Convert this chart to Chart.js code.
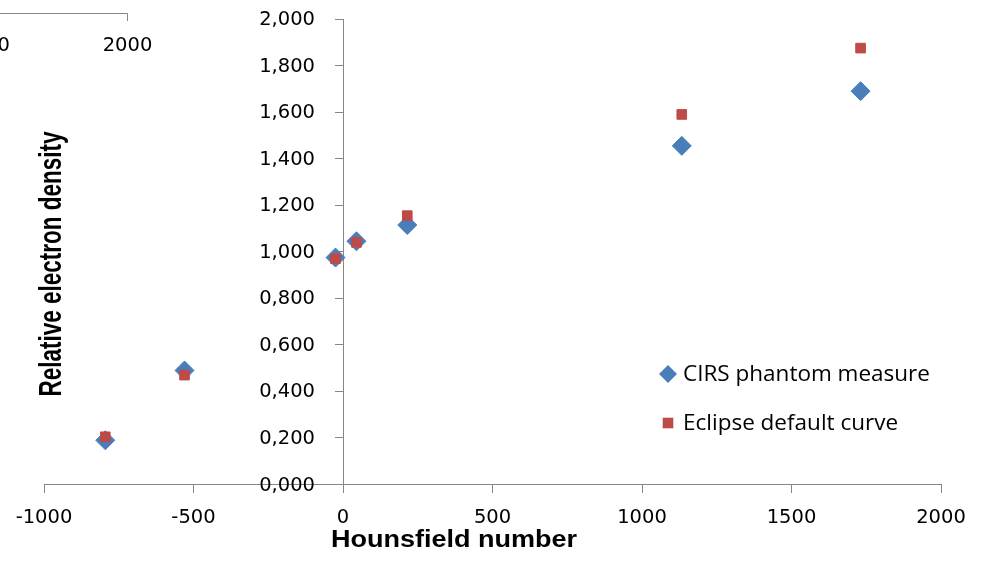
<!DOCTYPE html>
<html>
<head>
<meta charset="utf-8">
<script src="https://cdn.jsdelivr.net/npm/chart.js@4/dist/chart.umd.min.js"></script>
<style>
  body { margin: 0; background: #fff; }
  #wrap { width: 986px; height: 563px; position: relative; }
</style>
</head>
<body>
<div id="wrap"><canvas id="grafica"></canvas></div>
<script>
// Datos
const hounsfield = [-795, -530, -25, 45, 215, 1133, 1731];
const cirsDensity = [0.19, 0.49, 0.975, 1.045, 1.115, 1.455, 1.69];
const eclipseDensity = [0.205, 0.47, 0.97, 1.04, 1.155, 1.59, 1.875];

const seriesNames = ["CIRS phantom measure", "Eclipse default curve"];
const xTickLabels = ["-1000", "-500", "0", "500", "1000", "1500", "2000"];
const yTickLabels = ["0,000", "0,200", "0,400", "0,600", "0,800", "1,000",
  "1,200", "1,400", "1,600", "1,800", "2,000"];
const xTitle = "Hounsfield number";
const yTitle = "Relative electron density";

const axisColor = "#868686";
const blue = "#4A7EBB";
const red = "#BE4B48";
const tickFont = { family: "DejaVu Sans", size: 19.5 };

function toPoints(xs, ys) {
  return xs.map((x, i) => ({ x: x, y: ys[i] }));
}

// Dibuja un marcador como el de la leyenda de Excel
function drawMarker(ctx, style, color, x, y, r) {
  ctx.save();
  ctx.fillStyle = color;
  ctx.beginPath();
  if (style === "rectRot") {
    ctx.moveTo(x, y - r);
    ctx.lineTo(x + r, y);
    ctx.lineTo(x, y + r);
    ctx.lineTo(x - r, y);
    ctx.closePath();
  } else {
    ctx.rect(x - r, y - r, 2 * r, 2 * r);
  }
  ctx.fill();
  ctx.restore();
}

// Títulos, etiquetas del eje Y, leyenda y el trozo de otra gráfica arriba a la izquierda
const extrasPlugin = {
  id: "extras",
  afterDraw: (chart) => {
    const { ctx } = chart;
    const xScale = chart.scales.x;
    const yScale = chart.scales.y;
    ctx.save();
    ctx.fillStyle = "#000";

    // etiquetas del eje Y (el eje está en x = 0, Chart.js no respeta el padding ahí)
    const labelRight = xScale.getPixelForValue(0) - 28;
    ctx.font = tickFont.size + "px '" + tickFont.family + "'";
    ctx.textAlign = "right";
    ctx.textBaseline = "middle";
    yScale.ticks.forEach((t, i) => {
      ctx.fillText(yTickLabels[i], labelRight, yScale.getPixelForValue(t.value) + 1);
    });

    // título eje X
    ctx.save();
    ctx.font = "bold 23.5px 'Liberation Sans'";
    ctx.textAlign = "center";
    ctx.textBaseline = "alphabetic";
    ctx.translate(454, 547);
    ctx.scale(1.15, 1);
    ctx.fillText(xTitle, 0, 0);
    ctx.restore();

    // título eje Y
    ctx.save();
    ctx.font = "bold 22.5px 'Liberation Sans'";
    ctx.textAlign = "center";
    ctx.textBaseline = "alphabetic";
    ctx.translate(61, 264);
    ctx.scale(1.4, 1);
    ctx.rotate(-Math.PI / 2);
    ctx.fillText(yTitle, 0, 0);
    ctx.restore();

    // leyenda
    ctx.font = "22.5px 'Open Sans'";
    ctx.textAlign = "left";
    ctx.textBaseline = "middle";
    chart.data.datasets.forEach((ds, i) => {
      const yy = 374 + i * 49;
      drawMarker(ctx, ds.pointStyle, ds.backgroundColor, 668, yy,
        ds.pointStyle === "rectRot" ? 9 : 5.3);
      ctx.fillStyle = "#000";
      ctx.fillText(ds.label, 683, yy + 1);
    });

    // resto de la gráfica vecina (recortada)
    ctx.strokeStyle = axisColor;
    ctx.lineWidth = 1;
    ctx.beginPath();
    ctx.moveTo(0, 13.5);
    ctx.lineTo(127.5, 13.5);
    ctx.lineTo(127.5, 21);
    ctx.stroke();
    ctx.font = tickFont.size + "px '" + tickFont.family + "'";
    ctx.textBaseline = "middle";
    ctx.textAlign = "right";
    ctx.fillText("0", 10, 46);
    ctx.textAlign = "center";
    ctx.fillText("2000", 127.5, 46);

    ctx.restore();
  },
};

new Chart(document.getElementById("grafica"), {
  type: "scatter",
  data: {
    datasets: [
      {
        label: seriesNames[0],
        data: toPoints(hounsfield, cirsDensity),
        pointStyle: "rectRot",
        pointRadius: 9.5,
        pointHoverRadius: 9.5,
        backgroundColor: blue,
        borderColor: blue,
        borderWidth: 1,
        order: 2,
      },
      {
        label: seriesNames[1],
        data: toPoints(hounsfield, eclipseDensity),
        pointStyle: "rect",
        pointRadius: 6.8,
        pointHoverRadius: 6.8,
        backgroundColor: red,
        borderColor: red,
        borderWidth: 1,
        order: 1,
      },
    ],
  },
  options: {
    responsive: true,
    maintainAspectRatio: false,
    animation: false,
    layout: { padding: { left: 44, right: 45, top: 19, bottom: 78.5 } },
    plugins: {
      legend: { display: false },
      tooltip: { enabled: false },
    },
    scales: {
      x: {
        type: "linear",
        position: { y: 0 },
        min: -1000,
        max: 2000,
        grid: {
          drawOnChartArea: false,
          drawTicks: true,
          tickLength: 8,
          color: axisColor,
        },
        border: { display: true, color: axisColor, width: 1 },
        ticks: {
          stepSize: 500,
          color: "#000",
          font: tickFont,
          padding: 14,
          maxRotation: 0,
          callback: (v, i) => xTickLabels[i],
        },
      },
      y: {
        type: "linear",
        position: { x: 0 },
        min: 0,
        max: 2,
        grid: {
          drawOnChartArea: false,
          drawTicks: true,
          tickLength: 8,
          color: axisColor,
        },
        border: { display: true, color: axisColor, width: 1 },
        ticks: {
          stepSize: 0.2,
          display: false,
        },
      },
    },
  },
  plugins: [extrasPlugin],
});
</script>
</body>
</html>
